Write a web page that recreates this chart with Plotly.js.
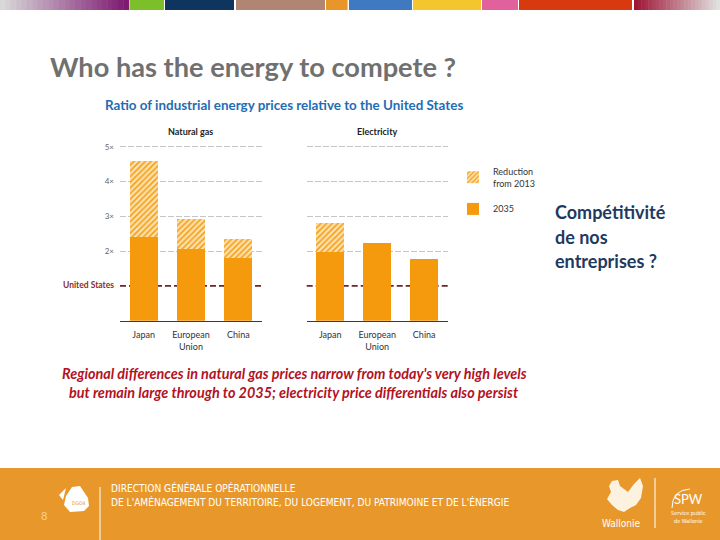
<!DOCTYPE html>
<html>
<head>
<meta charset="utf-8">
<script src="https://cdn.plot.ly/plotly-3.0.1.min.js"></script>
<style>html,body{margin:0;padding:0;background:#fff;}#chart{width:720px;height:540px;}</style>
</head>
<body>
<div id="chart"></div>
<script>
// ---- data ----
const categories = ["Japan", "European<br>Union", "China"];
const gas2013 = [4.58, 2.91, 2.36];
const gas2035 = [2.40, 2.05, 1.79];
const elec2013 = [2.81, 2.23, 1.78];
const elec2035 = [1.97, 2.23, 1.78];
const yTickVals = [2, 3, 4, 5];
const yTickText = ["2×", "3×", "4×", "5×"];
const usLevel = 1;

// ---- helpers ----
const W = 720, H = 540;
const px = x => x / W;
const py = y => 1 - y / H;
const diff = (a, b) => a.map((v, i) => +(v - b[i]).toFixed(2));

const orange = "#f59a0c";
const hatchPattern = {shape: "/", fgcolor: "#f5a21e", bgcolor: "#fde2b0", size: 4, solidity: 0.45};

const traces = [
  {type: "bar", x: categories, y: gas2035, xaxis: "x", yaxis: "y", name: "2035", legendgroup: "a", legendrank: 2,
   marker: {color: orange}, hoverinfo: "skip"},
  {type: "bar", x: categories, y: diff(gas2013, gas2035), xaxis: "x", yaxis: "y", name: "Reduction<br>from 2013", legendgroup: "b", legendrank: 1,
   marker: {color: "#fde2b0", pattern: hatchPattern}, hoverinfo: "skip"},
  {type: "bar", x: categories, y: elec2035, xaxis: "x2", yaxis: "y2", name: "2035", legendgroup: "a", legendrank: 2, showlegend: false,
   marker: {color: orange}, hoverinfo: "skip"},
  {type: "bar", x: categories, y: diff(elec2013, elec2035), xaxis: "x2", yaxis: "y2", name: "Reduction<br>from 2013", legendgroup: "b", legendrank: 1, showlegend: false,
   marker: {color: "#fde2b0", pattern: hatchPattern}, hoverinfo: "skip"}
];

const tickFont = {family: "Lato, 'Open Sans', sans-serif", size: 9, color: "#333"};
const xBase = {
  showgrid: false, zeroline: false, showline: true, linecolor: "#3a3a3a", linewidth: 1.5,
  ticks: "", tickfont: tickFont, ticklabelstandoff: 5, fixedrange: true
};
const yBase = {
  range: [0, 5.15], domain: [py(320.7), py(141.5)], tickvals: yTickVals, ticktext: yTickText,
  showgrid: true, gridcolor: "#c6c6c6", griddash: "6px,2px", gridwidth: 1,
  zeroline: false, showline: false, ticks: "", ticklabelstandoff: 5,
  tickfont: {family: "Lato, sans-serif", size: 8, color: "#666"},
  fixedrange: true
};

// ---- decoration shapes ----
const shapes = [];
function rect(x0, x1, y0, y1, color) {
  shapes.push({type: "rect", xref: "paper", yref: "paper", x0: px(x0), x1: px(x1), y0: py(y1), y1: py(y0),
    fillcolor: color, line: {width: 0}, layer: "above"});
}
function mix(c1, c2, t) {
  const a = c1.match(/\w\w/g).map(h => parseInt(h, 16)), b = c2.match(/\w\w/g).map(h => parseInt(h, 16));
  return "rgb(" + a.map((v, i) => Math.round(v + (b[i] - v) * t)).join(",") + ")";
}
const steps = 24;
for (let i = 0; i < steps; i++) {
  rect(i * 128.6 / steps, (i + 1) * 128.6 / steps + 0.5, 0, 10, mix("d8d8d8", "7e1a72", i / (steps - 1)));
  rect(634 + i * 86 / steps, 634 + (i + 1) * 86 / steps + 0.5, 0, 10, mix("9e1636", "e0e0e0", i / (steps - 1)));
}
rect(129.5, 164, 0, 10, "#7dbf2a");
rect(165, 234, 0, 10, "#0e3460");
rect(236, 325, 0, 10, "#b08672");
rect(326, 347.6, 0, 10, "#e8962a");
rect(349, 412, 0, 10, "#3f79c0");
rect(413, 481, 0, 10, "#f3c62e");
rect(482, 518, 0, 10, "#e0619b");
rect(519, 632, 0, 10, "#d9390f");

// footer band
shapes.push({type: "rect", xref: "paper", yref: "paper", x0: 0, x1: 1, y0: 0, y1: py(468),
  fillcolor: "#e8982b", line: {width: 0}, layer: "below"});
shapes.push({type: "line", xref: "paper", yref: "paper", x0: px(100), x1: px(100), y0: 0, y1: py(487),
  line: {color: "#ffffff", width: 1}});
shapes.push({type: "line", xref: "paper", yref: "paper", x0: px(655), x1: px(655), y0: py(528), y1: py(478),
  line: {color: "#ffffff", width: 1}});
function pathPx(pts) {
  return "M" + pts.map(p => px(p[0]) + "," + py(p[1])).join("L") + "Z";
}
// DGO4 logo blob
shapes.push({type: "path", xref: "paper", yref: "paper",
  path: pathPx([[72, 487], [80, 486], [88, 498], [89, 506], [84, 511], [70, 512], [64, 505], [66, 496]]),
  fillcolor: "#ffffff", line: {width: 0}});
shapes.push({type: "path", xref: "paper", yref: "paper",
  path: pathPx([[59, 495], [66, 488], [63, 500]]),
  fillcolor: "#ffffff", line: {width: 0}});
// rooster (rough silhouette)
shapes.push({type: "path", xref: "paper", yref: "paper",
  path: pathPx([[612, 481], [618, 480], [620, 486], [628, 492], [634, 484], [640, 478], [643, 486], [641, 498],
                [636, 505], [630, 508], [624, 512], [618, 510], [612, 505], [607, 499], [611, 492], [609, 486]]),
  fillcolor: "#fdf1e0", line: {width: 0}});
// SPW arc
shapes.push({type: "path", xref: "paper", yref: "paper",
  path: "M" + px(672) + "," + py(508) + " Q" + px(672) + "," + py(490) + " " + px(690) + "," + py(489),
  line: {color: "#ffffff", width: 1}});

// US reference lines (value 1×) behind bars
["", "2"].forEach(s => {
  shapes.push({type: "line", xref: "x" + s + " domain", yref: "y" + s, x0: 0, x1: 1, y0: usLevel, y1: usLevel,
    line: {color: "#6e2626", width: 1.6, dash: "6px,3px"}, layer: "below"});
});

// ---- annotations ----
const ann = [];
function text(t, x, y, opts) {
  ann.push(Object.assign({text: t, xref: "paper", yref: "paper", x: px(x), y: py(y), showarrow: false,
    xanchor: "left", yanchor: "middle"}, opts));
}
text("Who has the energy to compete ?", 48, 66, {font: {family: "Lato, sans-serif", size: 27.2, color: "#707070", weight: 700}});
text("Ratio of industrial energy prices relative to the United States", 103, 105,
  {font: {family: "Lato, sans-serif", size: 13.4, color: "#1f6db3", weight: 700}});
text("Natural gas", 190, 131, {xanchor: "center", font: {family: "Lato, sans-serif", size: 9, color: "#222", weight: 700}});
text("Electricity", 377, 131, {xanchor: "center", font: {family: "Lato, sans-serif", size: 9, color: "#222", weight: 700}});
text("United States", 116, 285, {xanchor: "right", font: {family: "Lato, sans-serif", size: 8.5, color: "#8a2c2c", weight: 700}});
text("<i>Regional differences in natural gas prices narrow from today's very high levels</i>", 294, 374,
  {xanchor: "center", font: {family: "Lato, sans-serif", size: 14.4, color: "#b3121f", weight: 700}});
text("<i>but remain large through to 2035; electricity price differentials also persist</i>", 294, 392,
  {xanchor: "center", font: {family: "Lato, sans-serif", size: 14.4, color: "#b3121f", weight: 700}});
const sideFont = {family: "Lato, sans-serif", size: 18, color: "#1f3a5f", weight: 700};
text("Compétitivité", 553, 212, {font: sideFont});
text("de nos", 553, 237, {font: sideFont});
text("entreprises ?", 553, 261, {font: sideFont});
// footer texts
const narrow = "'Liberation Sans Narrow', 'DejaVu Sans Condensed', sans-serif";
text("DIRECTION GÉNÉRALE OPÉRATIONNELLE", 109, 488, {font: {family: narrow, size: 10.1, color: "#ffffff"}});
text("DE L'AMÉNAGEMENT DU TERRITOIRE, DU LOGEMENT, DU PATRIMOINE ET DE L'ÉNERGIE", 109, 502,
  {font: {family: narrow, size: 10.1, color: "#ffffff"}});
text("8", 44, 515, {xanchor: "center", font: {family: "Lato, sans-serif", size: 11, color: "#f7cf9a"}});
text("DGO4", 78, 503, {xanchor: "center", font: {family: narrow, size: 5, color: "#e8982b"}});
text("Wallonie", 621, 523, {xanchor: "center", font: {family: narrow, size: 10, color: "#ffffff"}});
text("SPW", 688, 499, {xanchor: "center", font: {family: "Lato, sans-serif", size: 13, color: "#ffffff"}});
text("Service public", 688, 513, {xanchor: "center", font: {family: narrow, size: 5.5, color: "#ffffff"}});
text("de Wallonie", 688, 521, {xanchor: "center", font: {family: narrow, size: 5.5, color: "#ffffff"}});

const layout = {
  width: W, height: H,
  margin: {l: 0, r: 0, t: 0, b: 0},
  paper_bgcolor: "#ffffff", plot_bgcolor: "rgba(0,0,0,0)",
  barmode: "stack", bargap: 0.41,
  showlegend: true,
  legend: {x: px(453), y: py(159), xanchor: "left", yanchor: "top", tracegroupgap: 9, traceorder: "grouped",
    font: {family: "Lato, sans-serif", size: 9, color: "#333"}, bgcolor: "rgba(0,0,0,0)"},
  xaxis: Object.assign({}, xBase, {domain: [px(120), px(262)], anchor: "y"}),
  xaxis2: Object.assign({}, xBase, {domain: [px(306.7), px(447.7)], anchor: "y2"}),
  yaxis: Object.assign({}, yBase, {anchor: "x"}),
  yaxis2: Object.assign({}, yBase, {anchor: "x2", showticklabels: false}),
  shapes: shapes,
  annotations: ann
};

Plotly.newPlot("chart", traces, layout, {staticPlot: true, displayModeBar: false});
</script>
</body>
</html>
